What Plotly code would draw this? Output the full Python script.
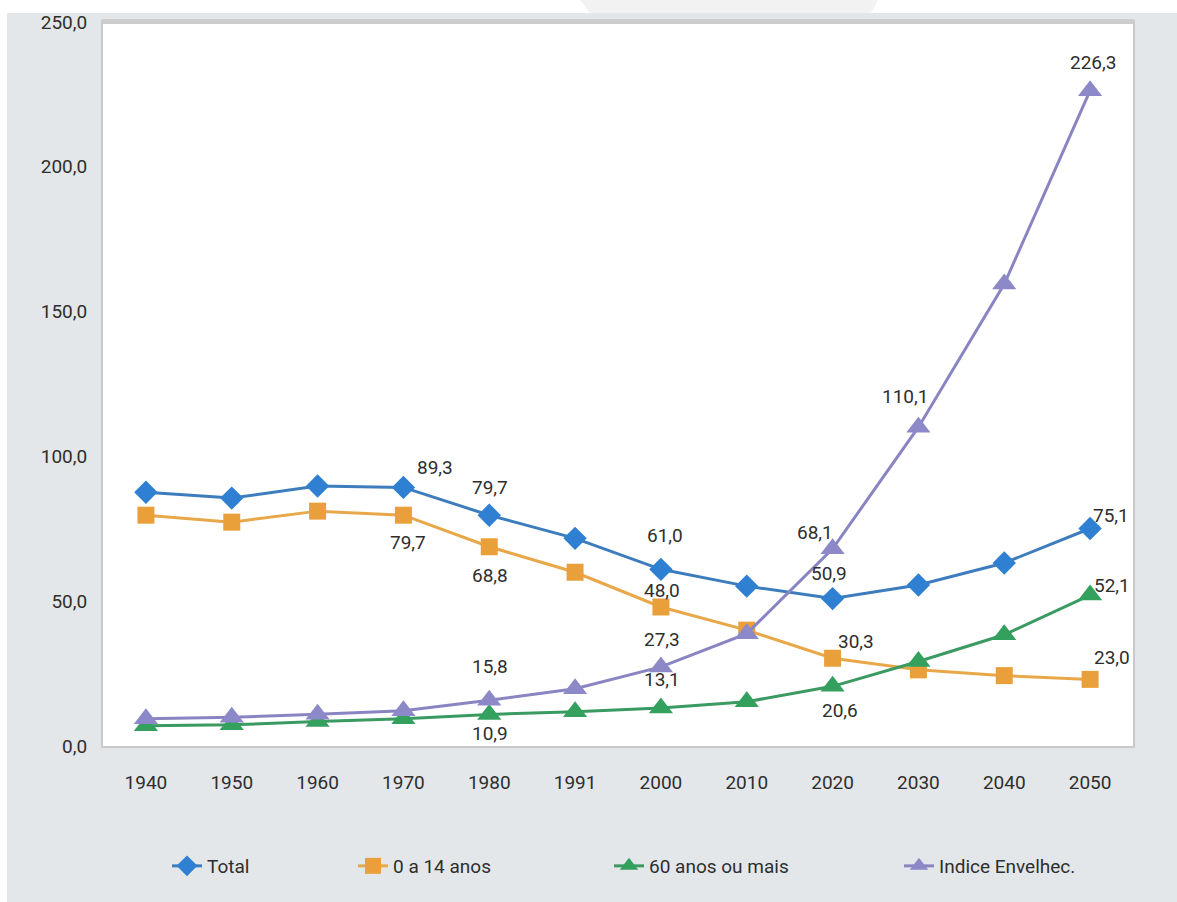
import plotly.graph_objects as go

# Anos do censo / projeção
anos = ["1940", "1950", "1960", "1970", "1980", "1991",
        "2000", "2010", "2020", "2030", "2040", "2050"]

# Razões de dependência e índice de envelhecimento
total = [87.6, 85.6, 89.8, 89.3, 79.7, 71.7, 61.0, 55.2, 50.9, 55.6, 63.2, 75.1]
jovens = [79.7, 77.3, 81.1, 79.7, 68.8, 60.0, 48.0, 40.0, 30.3, 26.3, 24.3, 23.0]
idosos = [7.0, 7.3, 8.5, 9.4, 10.9, 11.8, 13.1, 15.3, 20.6, 29.2, 38.4, 52.1]
indice = [9.4, 9.9, 11.0, 12.2, 15.8, 19.8, 27.3, 38.8, 68.1, 110.1, 159.5, 226.3]

nomes = ["Total", "0 a 14 anos", "60 anos ou mais", "Indice Envelhec."]
cores = ["#2f80d2", "#eaa03a", "#34a05e", "#8d89c9"]
linhas = ["#3e7dbd", "#e8a84a", "#3a9a62", "#8985c2"]
simbolos = ["diamond", "square", "triangle-up", "triangle-up"]
tamanhos = [18, 17, 21, 21]
series = [total, jovens, idosos, indice]

# Rótulos exibidos: (série, ano, deslocamento x, deslocamento y)
rotulos = [
    (0, "1970", 32, 20), (0, "1980", 1, 28), (0, "2000", 4, 34),
    (0, "2020", -4, 25), (0, "2050", 21, 13),
    (1, "1970", 5, -27), (1, "1980", 1, -29), (1, "2000", 1, 16),
    (1, "2020", 23, 17), (1, "2050", 22, 22),
    (2, "1980", 1, -19), (2, "2000", 1, 29), (2, "2020", 7, -24),
    (2, "2050", 22, 10),
    (3, "1980", 1, 34), (3, "2000", 1, 27), (3, "2020", -18, 16),
    (3, "2030", -13, 31), (3, "2050", 3, 28),
]

FONTE = "Roboto, Arial, sans-serif"
TXT = "#2e2e2e"

fig = go.Figure()
legendas = ["legend", "legend2", "legend3", "legend4"]
for i, vals in enumerate(series):
    fig.add_trace(go.Scatter(
        x=anos, y=vals, name=nomes[i], mode="lines+markers",
        line=dict(color=linhas[i], width=3),
        marker=dict(symbol=simbolos[i], size=tamanhos[i], color=cores[i]),
        legend=legendas[i], cliponaxis=False,
    ))

for s, ano, dx, dy in rotulos:
    k = anos.index(ano)
    v = series[s][k]
    fig.add_annotation(
        x=k, y=v, text=f"{v:.1f}".replace(".", ","), showarrow=False,
        xshift=dx, yshift=dy, font=dict(family=FONTE, size=19, color=TXT),
    )

# Geometria da área de desenho em pixels
L, R, T, B, W, H = 103, 1133, 22, 746, 1177, 902
pw, ph = R - L, B - T


def px(x):
    return (x - L) / pw


def py(y):
    return (B - y) / ph


# faixa branca superior e esquerda, com a aba clara no topo
fig.add_shape(type="rect", xref="paper", yref="paper", layer="above",
              x0=px(0), x1=px(W), y0=py(13), y1=py(0),
              fillcolor="white", line_width=0)
fig.add_shape(type="rect", xref="paper", yref="paper", layer="above",
              x0=px(0), x1=px(7), y0=py(H), y1=py(0),
              fillcolor="white", line_width=0)
fig.add_shape(type="path", xref="paper", yref="paper", layer="above",
              path=(f"M {px(580)} {py(0)} L {px(878)} {py(0)} "
                    f"L {px(871)} {py(13)} L {px(590)} {py(13)} Z"),
              fillcolor="#f2f2f2", line_width=0)
# sombra na borda superior do gráfico
fig.add_shape(type="rect", xref="paper", yref="paper", layer="above",
              x0=px(L - 1), x1=px(R + 1), y0=py(T + 2), y1=py(T - 3),
              fillcolor="#cdcdcd", line_width=0)

leg_x = [167, 353, 609, 899]
for i, lg in enumerate(legendas):
    fig.update_layout({lg: dict(
        x=px(leg_x[i]), y=py(866), xanchor="left", yanchor="middle",
        orientation="h", bgcolor="rgba(0,0,0,0)",
        font=dict(family=FONTE, size=19, color=TXT),
    )})

fig.update_layout(
    width=W, height=H,
    margin=dict(l=L, r=W - R, t=T, b=H - B),
    paper_bgcolor="#e4e7ea", plot_bgcolor="white",
    separators=",.",
    showlegend=True,
    xaxis=dict(
        type="category", range=[-0.5, len(anos) - 0.5],
        showgrid=False, zeroline=False,
        showline=True, linecolor="#c9c9c9", linewidth=2, mirror=True,
        ticks="", tickfont=dict(family=FONTE, size=19, color=TXT),
        ticklabelstandoff=18,
    ),
    yaxis=dict(
        range=[0, 250], dtick=50, tickformat=".1f", showgrid=False,
        zeroline=False, showline=True, linecolor="#c9c9c9", linewidth=2,
        mirror=True, ticks="", ticklabelstandoff=10,
        tickfont=dict(family=FONTE, size=19, color=TXT),
    ),
)

fig.write_html("out.html")
